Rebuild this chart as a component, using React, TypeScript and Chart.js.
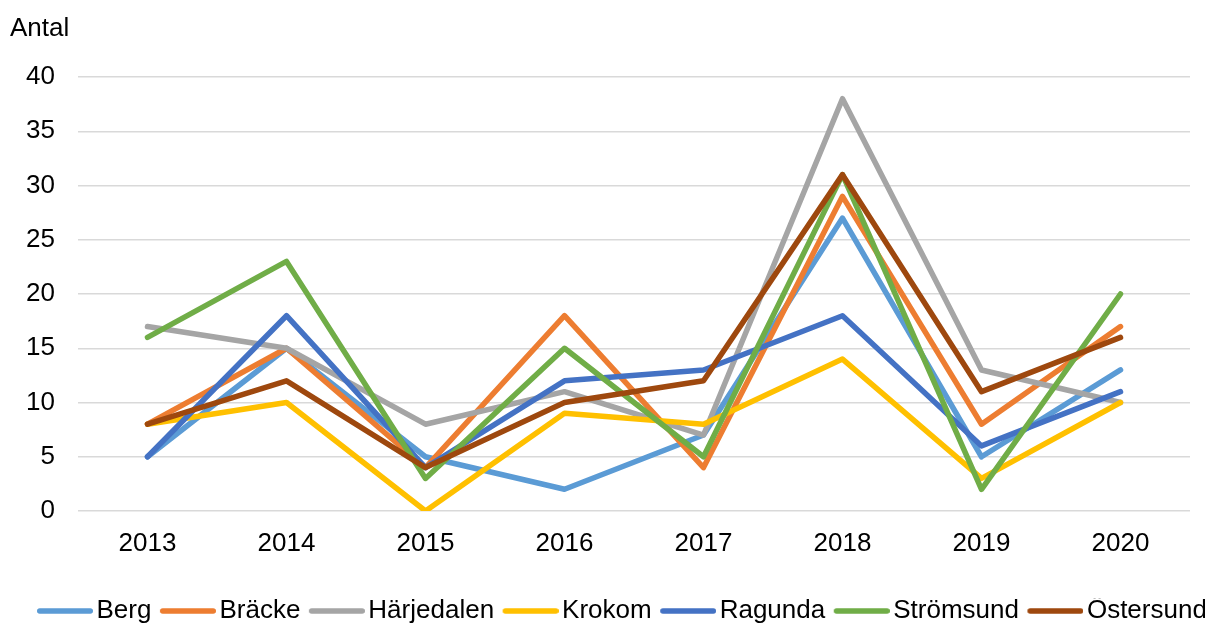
import React, { useEffect, useRef } from "react";
import { Chart, registerables } from "chart.js";

Chart.register(...registerables);

const years = ["2013", "2014", "2015", "2016", "2017", "2018", "2019", "2020"];
const berg = [5, 15, 5, 2, 7, 27, 5, 13];
const bracke = [8, 15, 4, 18, 4, 29, 8, 17];
const harjedalen = [17, 15, 8, 11, 7, 38, 13, 10];
const krokom = [8, 10, 0, 9, 8, 14, 3, 10];
const ragunda = [5, 18, 4, 12, 13, 18, 6, 11];
const stromsund = [16, 23, 3, 15, 5, 31, 2, 20];
const ostersund = [8, 12, 4, 10, 12, 31, 11, 16];

const seriesNames = ["Berg", "Bräcke", "Härjedalen", "Krokom", "Ragunda", "Strömsund", "Östersund"];
const seriesValues = [berg, bracke, harjedalen, krokom, ragunda, stromsund, ostersund];
const seriesColors = ["#5B9BD5", "#ED7D31", "#A5A5A5", "#FFC000", "#4472C4", "#70AD47", "#9E480E"];

const yTitle = "Antal";
const FONT = "'Liberation Sans', Arial, sans-serif";
const FS = 26;
const LINE_W = 5.5;

function legendSwatch(color: string): HTMLCanvasElement {
  const c = document.createElement("canvas");
  c.width = 74;
  c.height = 10;
  const g = c.getContext("2d")!;
  g.strokeStyle = color;
  g.lineWidth = LINE_W;
  g.lineCap = "round";
  g.beginPath();
  g.moveTo(20.75, 5);
  g.lineTo(71.25, 5);
  g.stroke();
  return c;
}

export default function App() {
  const canvasRef = useRef<HTMLCanvasElement | null>(null);

  useEffect(() => {
    document.documentElement.style.overflow = "hidden";
    document.body.style.overflow = "hidden";
    const canvas = canvasRef.current;
    if (!canvas) return;

    const titlePlugin = {
      id: "yTitleTop",
      beforeDraw(chart: any) {
        const lg = chart.legend;
        if (lg && lg.lineWidths && lg.lineWidths.length) {
          const cur = (lg.left + lg.right - lg.lineWidths[0]) / 2;
          const shift = 20.5 - cur;
          lg.left += shift;
          lg.right += shift;
        }
      },
      afterDraw(chart: any) {
        const ctx = chart.ctx;
        ctx.save();
        ctx.font = `${FS}px ${FONT}`;
        ctx.fillStyle = "#000";
        ctx.textAlign = "left";
        ctx.textBaseline = "middle";
        ctx.fillText(yTitle, 2, 21);
        ctx.restore();
      },
    };

    const chart = new Chart(canvas, {
      type: "line",
      data: {
        labels: years,
        datasets: seriesNames.map((name, i) => ({
          label: name,
          data: seriesValues[i],
          borderColor: seriesColors[i],
          backgroundColor: seriesColors[i],
          borderWidth: LINE_W,
          borderCapStyle: "round",
          borderJoinStyle: "round",
          pointRadius: 0,
          pointHoverRadius: 0,
          pointStyle: legendSwatch(seriesColors[i]),
          tension: 0,
          fill: false,
          yAxisID: "y",
          order: seriesNames.length - i,
        })),
      },
      options: {
        animation: false,
        responsive: true,
        maintainAspectRatio: false,
        layout: { padding: { top: 69, left: 0, right: 0, bottom: -8 } },
        plugins: {
          title: { display: false },
          tooltip: { enabled: false },
          legend: {
            position: "bottom",
            align: "center",
            labels: {
              usePointStyle: true,
              pointStyleWidth: 55,
              boxWidth: 55,
              padding: 0,
              color: "#000",
              font: { family: FONT, size: FS },
              sort: (a: any, b: any) => a.datasetIndex - b.datasetIndex,
            },
          },
        },
        scales: {
          x: {
            offset: true,
            grid: { display: false, drawTicks: false },
            border: { display: false },
            ticks: {
              color: "#000",
              font: { family: FONT, size: FS },
              padding: 17,
              maxRotation: 0,
            },
            afterFit: (scale: any) => {
              scale.height = 87;
            },
          },
          y: {
            min: 0,
            max: 40,
            grid: { color: "#D9D9D9", lineWidth: 1.5, drawTicks: false },
            border: { display: false },
            ticks: {
              stepSize: 5,
              color: "#000",
              font: { family: FONT, size: FS },
              padding: 23,
            },
            afterFit: (scale: any) => {
              scale.width = 70;
            },
          },
          yRight: {
            position: "right",
            display: true,
            grid: { display: false, drawTicks: false },
            border: { display: false },
            ticks: { display: false },
            afterFit: (scale: any) => {
              scale.width = 23;
            },
          },
        },
      },
      plugins: [titlePlugin],
    } as any);

    return () => chart.destroy();
  }, []);

  return (
    <div style={{ width: 1205, height: 618, position: "relative" }}>
      <canvas ref={canvasRef} />
    </div>
  );
}
